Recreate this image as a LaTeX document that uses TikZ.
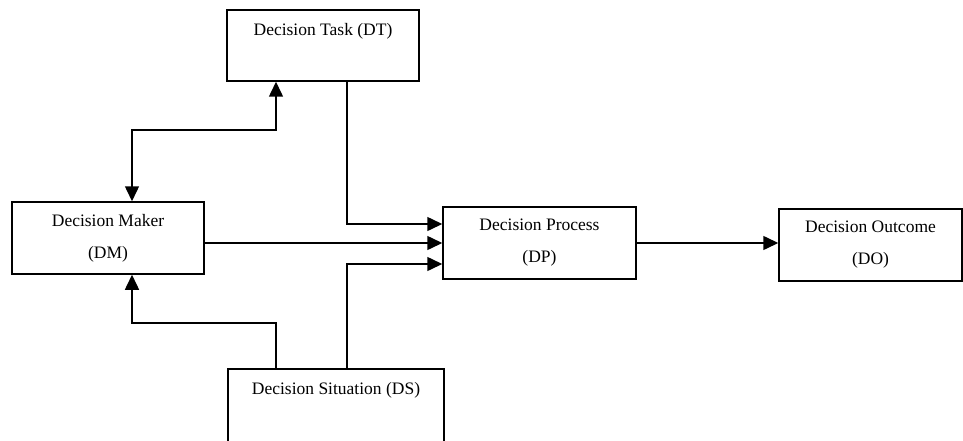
\documentclass[tikz,border=0pt]{standalone}
\usepackage{fontspec}
\setmainfont{Liberation Serif}
\usetikzlibrary{arrows.meta, positioning}

\begin{document}
\begin{tikzpicture}[
        x=1pt, y=-1pt,
        >={Triangle[length=15pt, width=14pt]},
        box/.style={draw, line width=1.5pt, align=center, inner sep=0pt,
            minimum height=72pt, font=\fontsize{17.5}{32}\selectfont},
        link/.style={line width=1.5pt}
    ]
        \useasboundingbox (0,0) rectangle (963,441);

        % 五个方框
        \path
            (323,45.5)  node[box, minimum width=192pt, minimum height=71pt] (dt) {Decision Task (DT)\\\mbox{}}
            (108,238)   node[box, minimum width=192pt] (dm) {Decision Maker\\(DM)}
            (539.5,243) node[box, minimum width=193pt] (dp) {Decision Process\\(DP)}
            (870.5,245) node[box, minimum width=183pt] (dout) {Decision Outcome\\(DO)}
            (336,419)   node[box, minimum width=216pt, minimum height=100pt] (ds) {Decision Situation (DS)\\[30pt]\mbox{}};

        % 折点
        \coordinate (k1) at (132,130);
        \coordinate (k2) at (132,323);

        % 连线
        \draw[link, <->] (dm.north -| k1) -- (k1) -| ([xshift=-47pt]dt.south);
        \draw[link, ->] ([xshift=24pt]dt.south) |- ([yshift=19pt]dp.west);
        \draw[link, ->] (dm.east |- dp.west) -- (dp.west);
        \draw[link, ->] ([xshift=11pt]ds.north) |- ([yshift=-21pt]dp.west);
        \draw[link, ->] ([xshift=-60pt]ds.north) |- (k2) -- (dm.south -| k2);
        \draw[link, ->] (dp.east) -- (dout.west |- dp.east);
    \end{tikzpicture}
\end{document}
